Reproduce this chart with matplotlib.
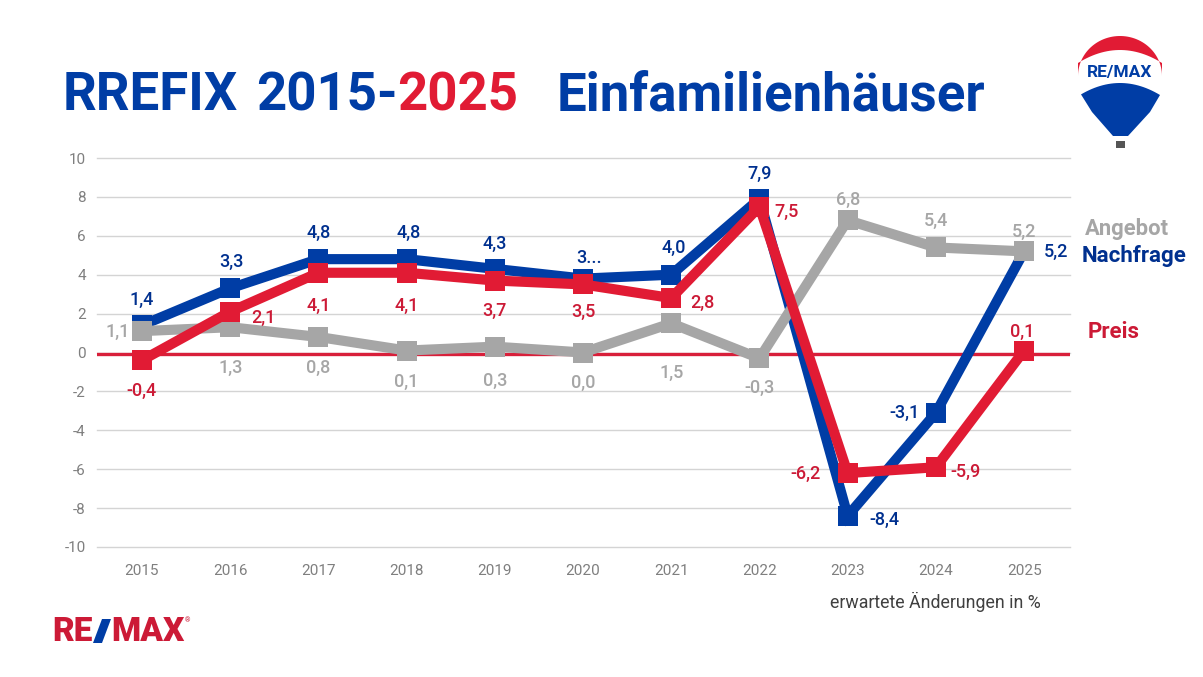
import matplotlib
matplotlib.use('Agg')
from matplotlib import pyplot as plt
from matplotlib.patches import Polygon, Rectangle
import numpy as np

plt.rcParams['font.family'] = ['Roboto', 'DejaVu Sans']
plt.rcParams['axes.unicode_minus'] = False

years = [2015, 2016, 2017, 2018, 2019, 2020, 2021, 2022, 2023, 2024, 2025]
angebot = [1.1, 1.3, 0.8, 0.1, 0.3, 0.0, 1.5, -0.3, 6.8, 5.4, 5.2]
nachfrage = [1.4, 3.3, 4.8, 4.8, 4.3, 3.8, 4.0, 7.9, -8.4, -3.1, 5.2]
preis = [-0.4, 2.1, 4.1, 4.1, 3.7, 3.5, 2.8, 7.5, -6.2, -5.9, 0.1]
# what the labels say, one is cut off in the original
nachfrage_labels = ['1,4', '3,3', '4,8', '4,8', '4,3', '3...', '4,0', '7,9', '-8,4', '-3,1', '5,2']
preis_labels = ['-0,4', '2,1', '4,1', '4,1', '3,7', '3,5', '2,8', '7,5', '-6,2', '-5,9', '0,1']
angebot_labels = ['1,1', '1,3', '0,8', '0,1', '0,3', '0,0', '1,5', '-0,3', '6,8', '5,4', '5,2']

BLUE = '#003da5'
RED = '#e11b34'
GREY = '#a6a6a6'
BLUE_TXT = '#00308f'
RED_TXT = '#cc1a36'
W, H = 1203, 677

fig = plt.figure(figsize=(W/100, H/100), dpi=100)
ax = fig.add_axes([97/W, 1-547/H, (1070-97)/W, (547-158)/H])
ax.set_xlim(2014.49, 2025.52)
ax.set_ylim(-10, 10)
ax.set_yticks(range(-10, 11, 2))
ax.set_xticks(years)
ax.grid(axis='y', color='#d4d4d4', lw=1, clip_on=False)
ax.set_axisbelow(True)
ax.tick_params(length=0, labelsize=11, labelcolor='#7f7f7f', pad=12)
ax.tick_params(axis='y', pad=8)
for s in ax.spines.values():
    s.set_visible(False)

ax.axhline(-0.1, color='#d81f3a', lw=2.4, zorder=2, xmin=-0.003)
kw = dict(lw=7.3, marker='s', ms=14.2, mew=0, solid_joinstyle='miter', clip_on=False)
ax.plot(years, nachfrage, color=BLUE, zorder=3, **kw)
ax.plot(years, angebot, color=GREY, zorder=4, **kw)
ax.plot(years, preis, color=RED, zorder=5, **kw)

# label offsets in pixels, hand placed like the original
blue_off = [(0, 25), (1, 26), (0, 26), (2, 26), (0, 25), (6, 21), (2, 27), (0, 25), (37, -4), (-31, 0), (32, -1)]
red_off = [(0, -31), (33, -6), (0, -33), (0, -33), (0, -30), (0, -27), (31, -5), (27, -5), (-42, -1), (30, -5), (-2, 19)]
grey_off = [(-24, -1), (0, -41), (0, -31), (0, -31), (0, -34), (0, -30), (0, -50), (0, -30), (0, 20), (0, 27), (0, 19)]
for vals, labs, offs, col in [(angebot, angebot_labels, grey_off, GREY),
                              (nachfrage, nachfrage_labels, blue_off, BLUE_TXT),
                              (preis, preis_labels, red_off, RED_TXT)]:
    for x, v, lab, off in zip(years, vals, labs, offs):
        ax.annotate(lab, (x, v), xytext=off, textcoords='offset pixels', ha='center', va='center',
                    color=col, fontsize=13, fontweight='medium', zorder=6, annotation_clip=False)

# everything outside the plot goes in a pixel sized overlay
ov = fig.add_axes([0, 0, 1, 1])
ov.set_xlim(0, W)
ov.set_ylim(H, 0)
ov.axis('off')
ov.patch.set_alpha(0)

ty = 96
tsize = 38
ov.text(63, ty, 'RREFIX', color=BLUE, fontsize=tsize, fontweight='bold', va='center')
ov.text(256, ty, '2015-', color=BLUE, fontsize=tsize, fontweight='bold', va='center')
ov.text(397, ty, '2025', color=RED, fontsize=tsize, fontweight='bold', va='center')
ov.text(557, ty, 'Einfamilienhäuser', color=BLUE, fontsize=tsize, fontweight='bold', va='center')

ov.text(1085, 229, 'Angebot', color=GREY, fontsize=15.8, fontweight='bold', va='center')
ov.text(1082, 256, 'Nachfrage', color=BLUE_TXT, fontsize=16, fontweight='bold', va='center')
ov.text(1088, 332, 'Preis', color=RED_TXT, fontsize=16, fontweight='bold', va='center')
ov.text(830, 602, 'erwartete Änderungen in %', color='#404040', fontsize=12.8, va='center')

# RE/MAX wordmark
ov.text(52, 632, 'RE', color=RED_TXT, fontsize=24, fontweight='black', va='center')
ov.add_patch(Polygon([[93, 643], [102, 643], [111, 619], [102, 619]], color=BLUE, lw=0))
ov.text(111, 632, 'MAX', color=RED_TXT, fontsize=24, fontweight='black', va='center')
ov.text(185, 621, '®', color=RED_TXT, fontsize=5, va='center')

# balloon
t = np.linspace(0, np.pi, 60)
dome_x = 1120 - 42*np.cos(t)
dome_y = 76 - 40*np.sin(t)
low_x = np.linspace(1162, 1078, 30)
low_y = 50 + 13*((low_x-1120)/42)**2
ov.add_patch(Polygon(np.c_[np.r_[dome_x, low_x], np.r_[dome_y, low_y]], color=RED, lw=0))
top_x = np.linspace(1081, 1160, 30)
top_y = 83 + 12*((top_x-1120)/40)**2
ov.add_patch(Polygon(np.c_[np.r_[top_x, 1150, 1128, 1113, 1092], np.r_[top_y, 112, 136, 136, 112]],
                     color=BLUE, lw=0))
ov.add_patch(Rectangle((1116, 141), 9, 7, color='#555555', lw=0))
ov.text(1120, 72, 'RE/MAX', color=BLUE, fontsize=12.5, fontweight='bold', ha='center', va='center')

fig.savefig('out.png', dpi=100)
